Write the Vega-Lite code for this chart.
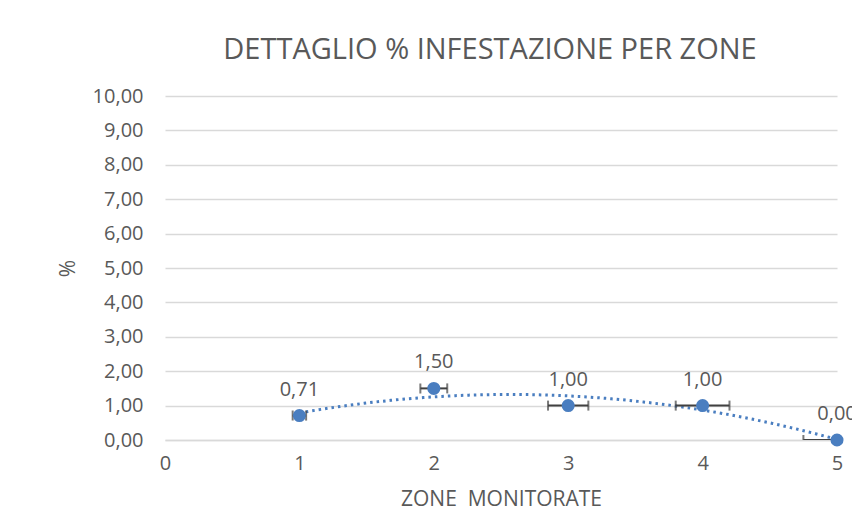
{
  "$schema": "https://vega.github.io/schema/vega-lite/v6.json",
  "autosize": "none",
  "width": 672,
  "height": 344,
  "padding": {"left": 165, "top": 96, "right": 15, "bottom": 87},
  "background": "white",
  "title": {
    "text": "DETTAGLIO % INFESTAZIONE PER ZONE",
    "font": "Open Sans",
    "fontSize": 29,
    "fontWeight": "normal",
    "color": "#595959",
    "anchor": "middle",
    "dx": -11,
    "baseline": "alphabetic",
    "offset": -2
  },
  "data": {
    "values": [
      {"zona": 1, "pct": 0.71, "lo": 0.95, "hi": 1.05},
      {"zona": 2, "pct": 1.5, "lo": 1.9, "hi": 2.1},
      {"zona": 3, "pct": 1.0, "lo": 2.85, "hi": 3.15},
      {"zona": 4, "pct": 1.0, "lo": 3.8, "hi": 4.2},
      {"zona": 5, "pct": 0.0, "lo": 4.75, "hi": 5.25}
    ]
  },
  "encoding": {
    "y": {
      "field": "pct",
      "type": "quantitative",
      "scale": {"domain": [0, 10], "nice": false},
      "axis": {
        "title": "%",
        "values": [0, 1, 2, 3, 4, 5, 6, 7, 8, 9, 10],
        "format": ".2f",
        "grid": true,
        "domain": false,
        "ticks": false,
        "labelPadding": 22,
        "titlePadding": 14
      }
    }
  },
  "layer": [
    {
      "transform": [
        {"regression": "pct", "on": "zona", "method": "poly", "order": 2, "extent": [1, 5]}
      ],
      "mark": {"type": "line", "color": "#4A7EC0", "strokeWidth": 3, "strokeDash": [2.5, 4], "clip": true},
      "encoding": {
        "x": {
          "field": "zona",
          "type": "quantitative",
          "scale": {"domain": [0, 5], "nice": false},
          "axis": {
            "title": "ZONE\u00a0 MONITORATE",
            "values": [0, 1, 2, 3, 4, 5],
            "format": "d",
            "grid": false,
            "ticks": false,
            "domain": true,
            "domainColor": "#D9D9D9",
            "domainWidth": 1.5,
            "labelFlush": false,
            "labelPadding": 13,
            "titlePadding": 15
          }
        }
      }
    },
    {
      "mark": {"type": "rule", "color": "#404040", "strokeWidth": 2, "clip": true},
      "encoding": {
        "x": {"field": "lo", "type": "quantitative"},
        "x2": {"field": "hi"}
      }
    },
    {
      "mark": {"type": "tick", "orient": "vertical", "color": "#404040", "thickness": 2, "size": 10, "clip": true},
      "encoding": {
        "x": {"field": "lo", "type": "quantitative"}
      }
    },
    {
      "mark": {"type": "tick", "orient": "vertical", "color": "#404040", "thickness": 2, "size": 10, "clip": true},
      "encoding": {
        "x": {"field": "hi", "type": "quantitative"}
      }
    },
    {
      "mark": {"type": "point", "filled": true, "opacity": 1, "color": "#4A7EC0", "size": 170, "shape": "circle"},
      "encoding": {
        "x": {"field": "zona", "type": "quantitative"}
      }
    },
    {
      "mark": {"type": "text", "dy": -26, "font": "Open Sans", "fontSize": 20, "color": "#595959"},
      "encoding": {
        "x": {"field": "zona", "type": "quantitative"},
        "text": {"field": "pct", "type": "quantitative", "format": ".2f"}
      }
    }
  ],
  "config": {
    "locale": {
      "number": {"decimal": ",", "thousands": ".", "grouping": [3], "currency": ["€", ""]}
    },
    "view": {"stroke": null},
    "axis": {
      "labelFont": "Open Sans",
      "labelFontSize": 20,
      "labelColor": "#595959",
      "titleFont": "Open Sans",
      "titleFontSize": 21,
      "titleFontWeight": "normal",
      "titleColor": "#595959",
      "gridColor": "#D9D9D9",
      "gridWidth": 1.5
    }
  }
}
